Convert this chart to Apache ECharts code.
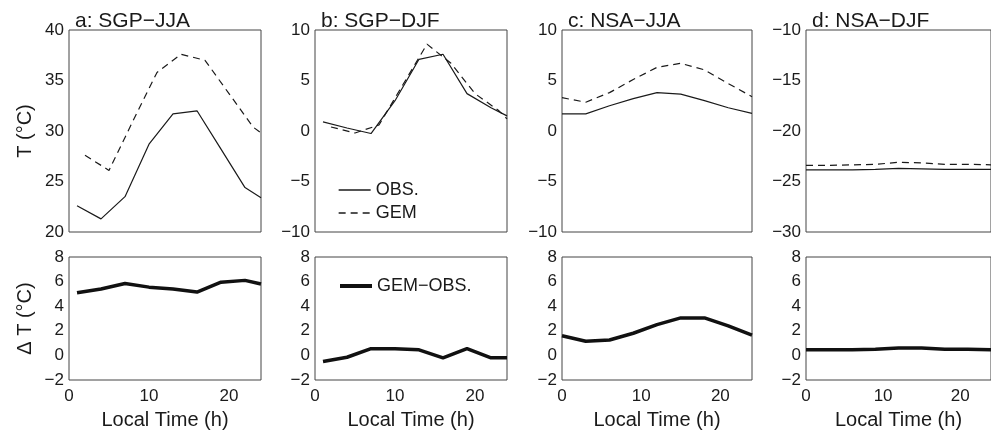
<!DOCTYPE html>
<html>
<head>
<meta charset="utf-8">
<script src="https://cdn.jsdelivr.net/npm/echarts@6/dist/echarts.min.js"></script>
<style>
html,body{margin:0;padding:0;background:#fff;}
#chart{width:991px;height:436px;}
</style>
</head>
<body>
<div id="chart"></div>
<script>
// Local time (h) of the samples
const hoursSGP = [1, 4, 7, 10, 13, 16, 19, 22, 24];
const hoursSGPgem = [2, 5, 8, 11, 14, 17, 20, 23, 24];
const hoursNSA = [0, 3, 6, 9, 12, 15, 18, 21, 24];

// Panel titles
const panelTitles = ['a: SGP\u2212JJA', 'b: SGP\u2212DJF', 'c: NSA\u2212JJA', 'd: NSA\u2212DJF'];

// a: SGP-JJA
const sgpJJA_obs = [22.6, 21.3, 23.5, 28.7, 31.7, 32.0, 28.2, 24.4, 23.4];
const sgpJJA_gem = [27.6, 26.1, 31.0, 35.8, 37.6, 37.0, 33.7, 30.4, 29.8];
const sgpJJA_diff = [5.1, 5.4, 5.85, 5.55, 5.4, 5.15, 5.95, 6.1, 5.8];
// b: SGP-DJF
const sgpDJF_obs = [0.9, 0.3, -0.25, 3.0, 7.1, 7.6, 3.7, 2.3, 1.5];
const sgpDJF_gem = [0.4, -0.2, 0.6, 4.6, 8.6, 6.7, 3.7, 2.0, 1.2];
const sgpDJF_diff = [-0.5, -0.15, 0.55, 0.55, 0.45, -0.2, 0.55, -0.2, -0.2];
// c: NSA-JJA
const nsaJJA_obs = [1.7, 1.7, 2.5, 3.2, 3.8, 3.65, 3.0, 2.3, 1.75];
const nsaJJA_gem = [3.3, 2.85, 3.8, 5.1, 6.3, 6.7, 6.05, 4.7, 3.4];
const nsaJJA_diff = [1.6, 1.15, 1.25, 1.8, 2.5, 3.05, 3.05, 2.4, 1.65];
// d: NSA-DJF
const nsaDJF_obs = [-23.85, -23.85, -23.85, -23.8, -23.7, -23.75, -23.8, -23.8, -23.8];
const nsaDJF_gem = [-23.4, -23.4, -23.35, -23.3, -23.1, -23.15, -23.3, -23.3, -23.35];
const nsaDJF_diff = [0.45, 0.45, 0.45, 0.5, 0.6, 0.6, 0.5, 0.5, 0.45];

// Axis ranges
const topYMin = [20, -10, -10, -30];
const topYMax = [40, 10, 10, -10];
const topYStep = 5;
const botYMin = -2, botYMax = 8, botYStep = 2;
const xMin = 0, xMax = 24, xStep = 10;

const panels = [
  {obsX: hoursSGP, gemX: hoursSGPgem, diffX: hoursSGP, obs: sgpJJA_obs, gem: sgpJJA_gem, diff: sgpJJA_diff},
  {obsX: hoursSGP, gemX: hoursSGPgem, diffX: hoursSGP, obs: sgpDJF_obs, gem: sgpDJF_gem, diff: sgpDJF_diff},
  {obsX: hoursNSA, gemX: hoursNSA, diffX: hoursNSA, obs: nsaJJA_obs, gem: nsaJJA_gem, diff: nsaJJA_diff},
  {obsX: hoursNSA, gemX: hoursNSA, diffX: hoursNSA, obs: nsaDJF_obs, gem: nsaDJF_gem, diff: nsaDJF_diff}
];

const FONT = '"Liberation Sans", Arial, Helvetica, sans-serif';
const INK = '#1a1a1a';
const lefts = [69, 315, 562, 806];
const widths = [192, 192, 190, 192];
const pair = (xs, ys) => xs.map((x, i) => [x, ys[i]]);
const minus = v => String(v).replace('-', '\u2212');

const grids = [], xAxes = [], yAxes = [], series = [], titles = [];
panels.forEach((p, i) => {
  grids.push({left: lefts[i], top: 30, width: widths[i], height: 202, show: true, borderColor: '#444', borderWidth: 1, containLabel: false});
  grids.push({left: lefts[i], top: 257, width: widths[i], height: 123, show: true, borderColor: '#444', borderWidth: 1, containLabel: false});
  const gt = 2 * i, gb = 2 * i + 1;
  xAxes.push({gridIndex: gt, type: 'value', min: xMin, max: xMax, interval: xStep,
    axisLine: {show: false}, axisTick: {show: false}, splitLine: {show: false}, axisLabel: {show: false}});
  xAxes.push({gridIndex: gb, type: 'value', min: xMin, max: xMax, interval: xStep,
    axisLine: {show: false}, axisTick: {show: false}, splitLine: {show: false},
    axisLabel: {show: true, fontFamily: FONT, fontSize: 17, color: INK, margin: 8, showMaxLabel: false},
    name: 'Local Time (h)', nameLocation: 'middle', nameGap: 30,
    nameTextStyle: {fontFamily: FONT, fontSize: 20, color: INK}});
  yAxes.push({gridIndex: gt, type: 'value', min: topYMin[i], max: topYMax[i], interval: topYStep,
    axisLine: {show: false}, axisTick: {show: false}, splitLine: {show: false},
    axisLabel: {fontFamily: FONT, fontSize: 17, color: INK, margin: 5, formatter: minus},
    name: i === 0 ? 'T (\u00B0C)' : '', nameLocation: 'middle', nameGap: 34, nameRotate: 90,
    nameTextStyle: {fontFamily: FONT, fontSize: 20, color: INK}});
  yAxes.push({gridIndex: gb, type: 'value', min: botYMin, max: botYMax, interval: botYStep,
    axisLine: {show: false}, axisTick: {show: false}, splitLine: {show: false},
    axisLabel: {fontFamily: FONT, fontSize: 17, color: INK, margin: 5, formatter: minus},
    name: i === 0 ? '\u0394 T (\u00B0C)' : '', nameLocation: 'middle', nameGap: 34, nameRotate: 90,
    nameTextStyle: {fontFamily: FONT, fontSize: 20, color: INK}});
  series.push({type: 'line', name: 'OBS.', xAxisIndex: gt, yAxisIndex: gt, data: pair(p.obsX, p.obs),
    symbol: 'none', lineStyle: {color: INK, width: 1.2}, itemStyle: {color: INK}});
  series.push({type: 'line', name: 'GEM', xAxisIndex: gt, yAxisIndex: gt, data: pair(p.gemX, p.gem),
    symbol: 'none', lineStyle: {color: INK, width: 1.2, type: [7, 5]}, itemStyle: {color: INK}});
  series.push({type: 'line', name: 'GEM\u2212OBS.', xAxisIndex: gb, yAxisIndex: gb, data: pair(p.diffX, p.diff),
    symbol: 'none', lineStyle: {color: '#111', width: 3.5}, itemStyle: {color: '#111'}});
  titles.push({text: panelTitles[i], left: lefts[i] + 1, top: 6,
    textStyle: {fontFamily: FONT, fontSize: 21, fontWeight: 'normal', color: INK}});
});

const chart = echarts.init(document.getElementById('chart'), null, {renderer: 'canvas'});
chart.setOption({
  animation: false,
  backgroundColor: '#fff',
  title: titles,
  grid: grids,
  xAxis: xAxes,
  yAxis: yAxes,
  legend: [
    {data: ['OBS.', 'GEM'], orient: 'vertical', left: 333, top: 176, itemWidth: 32, itemHeight: 12, itemGap: 5,
      selectedMode: false, itemStyle: {opacity: 0}, lineStyle: {width: 1.3},
      textStyle: {fontFamily: FONT, fontSize: 18, color: INK}},
    {data: ['GEM\u2212OBS.'], left: 333, top: 272, itemWidth: 32, itemHeight: 12,
      selectedMode: false, itemStyle: {opacity: 0}, lineStyle: {width: 4},
      textStyle: {fontFamily: FONT, fontSize: 18, color: INK}}
  ],
  series: series
});
</script>
</body>
</html>
